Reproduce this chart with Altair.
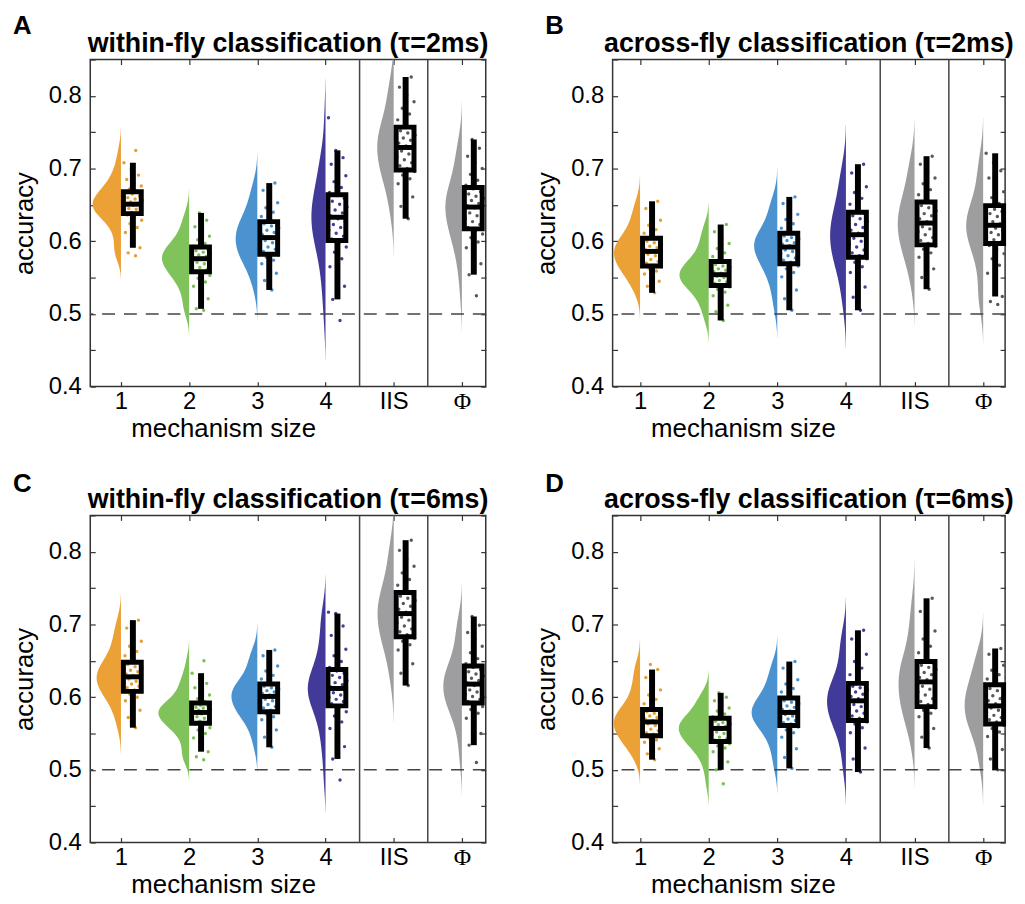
import altair as alt
import pandas as pd

# ---------------- data ----------------
CATS = ["1", "2", "3", "4", "IIS", "Φ"]
GROUPS = ["m1", "m2", "m3", "m4", "iis", "phi"]
Y_TICKS = [0.4, 0.45, 0.5, 0.55, 0.6, 0.65, 0.7, 0.75, 0.8, 0.85]
CHANCE = [0.5]
SEPARATORS = [4.5, 5.5]

TITLES = {
    "A": "within-fly classification (τ=2ms)",
    "B": "across-fly classification (τ=2ms)",
    "C": "within-fly classification (τ=6ms)",
    "D": "across-fly classification (τ=6ms)",
}

# box-plot statistics per category (whisker low, q1, median, q3, whisker high)
A_STATS = dict(lo=[.591, .507, .533, .520, .631, .554], q1=[.638, .558, .582, .601, .698, .617],
               med=[.651, .576, .605, .633, .729, .647], q3=[.668, .592, .627, .664, .757, .674],
               hi=[.708, .639, .680, .725, .826, .740])
B_STATS = dict(lo=[.529, .491, .505, .505, .534, .524], q1=[.566, .539, .569, .578, .595, .597],
               med=[.586, .554, .592, .609, .625, .622], q3=[.604, .572, .611, .640, .654, .649],
               hi=[.655, .623, .661, .706, .717, .721])
C_STATS = dict(lo=[.558, .525, .531, .515, .616, .534], q1=[.608, .564, .580, .588, .683, .592],
               med=[.628, .579, .601, .612, .715, .618], q3=[.648, .592, .618, .638, .744, .643],
               hi=[.706, .633, .665, .715, .816, .711])
D_STATS = dict(lo=[.514, .500, .502, .497, .530, .500], q1=[.547, .539, .561, .568, .587, .563],
               med=[.566, .557, .579, .595, .621, .588], q3=[.583, .571, .599, .619, .649, .617],
               hi=[.638, .606, .649, .692, .736, .667])

# individual accuracies (estimated from the scatter clouds)
A_POINTS = [
    [.580, .584, .591, .603, .612, .619, .624, .629, .633, .636, .638, .640, .642, .644, .645, .647, .649, .650,
     .652, .654, .656, .658, .660, .662, .665, .667, .669, .672, .676, .680, .685, .691, .699, .708, .725],
    [.505, .507, .521, .531, .538, .544, .549, .553, .556, .558, .561, .564, .566, .569, .571, .573, .575, .577,
     .579, .581, .583, .585, .587, .589, .591, .593, .597, .602, .607, .613, .620, .629, .639],
    [.533, .546, .556, .563, .569, .574, .578, .581, .583, .586, .589, .592, .595, .598, .601, .604, .606, .609,
     .612, .615, .618, .621, .624, .626, .629, .634, .640, .646, .653, .661, .670, .680],
    [.491, .520, .538, .553, .565, .576, .585, .592, .598, .603, .607, .611, .615, .619, .623, .627, .631, .635,
     .639, .643, .647, .651, .655, .659, .663, .667, .674, .682, .690, .698, .706, .715, .725, .770],
    [.631, .648, .661, .671, .679, .686, .691, .696, .700, .704, .708, .712, .716, .720, .724, .727, .731, .735,
     .739, .742, .746, .749, .752, .755, .760, .767, .775, .783, .792, .801, .812, .826],
    [.525, .554, .569, .581, .591, .599, .605, .610, .614, .619, .623, .627, .631, .635, .639, .643, .646, .649,
     .652, .656, .659, .662, .665, .668, .672, .677, .684, .692, .700, .708, .717, .728, .740],
]
B_POINTS = [
    [.529, .538, .545, .551, .555, .559, .562, .565, .567, .570, .572, .575, .578, .580, .582, .585, .587, .589,
     .591, .593, .596, .598, .600, .603, .606, .611, .616, .622, .629, .636, .645, .655],
    [.491, .503, .512, .519, .525, .530, .534, .537, .540, .542, .544, .546, .548, .550, .552, .553, .556, .558,
     .560, .562, .564, .566, .568, .571, .574, .579, .584, .590, .597, .604, .613, .623],
    [.505, .521, .533, .543, .551, .557, .562, .566, .571, .574, .577, .580, .583, .586, .588, .591, .594, .596,
     .598, .601, .603, .605, .607, .610, .613, .618, .624, .630, .637, .644, .652, .661],
    [.505, .523, .537, .548, .557, .565, .571, .576, .580, .584, .588, .592, .596, .600, .604, .607, .611, .615,
     .619, .623, .627, .631, .635, .638, .643, .651, .659, .667, .675, .684, .694, .706],
    [.534, .550, .562, .571, .578, .584, .589, .593, .597, .601, .605, .609, .613, .617, .620, .623, .627, .631,
     .635, .638, .642, .646, .649, .652, .657, .664, .671, .679, .687, .696, .706, .717],
    [.513, .517, .524, .542, .556, .567, .576, .583, .589, .594, .599, .602, .605, .609, .612, .615, .618, .621,
     .624, .627, .631, .634, .638, .641, .644, .647, .652, .660, .668, .677, .687, .697, .708, .721],
]
C_POINTS = [
    [.558, .572, .582, .589, .595, .600, .604, .607, .610, .613, .615, .618, .620, .622, .625, .627, .630, .632,
     .635, .637, .640, .642, .645, .647, .651, .657, .663, .670, .677, .685, .695, .706],
    [.514, .518, .525, .536, .544, .550, .555, .558, .561, .563, .565, .567, .569, .571, .573, .575, .577, .578,
     .580, .582, .583, .585, .586, .588, .589, .591, .594, .598, .603, .608, .613, .619, .626, .633, .650],
    [.531, .545, .555, .563, .569, .573, .577, .579, .582, .585, .587, .590, .593, .595, .597, .600, .603, .605,
     .607, .609, .611, .613, .615, .617, .620, .625, .630, .636, .643, .650, .657, .665],
    [.486, .515, .532, .546, .557, .566, .574, .580, .585, .591, .594, .597, .600, .603, .606, .608, .611, .614,
     .617, .620, .623, .627, .630, .633, .636, .641, .649, .657, .666, .675, .685, .698, .715, .717],
    [.616, .633, .646, .656, .665, .672, .677, .681, .686, .690, .694, .698, .702, .706, .710, .713, .717, .721,
     .725, .729, .733, .736, .739, .742, .747, .754, .762, .771, .780, .790, .802, .816],
    [.510, .534, .550, .562, .571, .578, .583, .587, .590, .594, .597, .601, .604, .607, .610, .613, .616, .620,
     .623, .626, .629, .632, .635, .638, .641, .646, .653, .661, .670, .679, .689, .699, .711],
]
D_POINTS = [
    [.514, .522, .529, .534, .538, .541, .544, .546, .549, .551, .554, .556, .559, .561, .563, .565, .568, .570,
     .572, .574, .576, .578, .580, .582, .586, .591, .597, .603, .610, .617, .627, .638, .645],
    [.481, .500, .511, .519, .525, .530, .533, .536, .538, .541, .543, .545, .548, .550, .552, .554, .556, .558,
     .560, .562, .563, .565, .567, .568, .570, .573, .577, .581, .585, .590, .595, .600, .606],
    [.502, .517, .529, .538, .545, .551, .555, .559, .563, .565, .568, .570, .572, .574, .576, .578, .581, .583,
     .586, .588, .591, .593, .595, .597, .602, .607, .612, .618, .624, .631, .640, .649],
    [.497, .515, .530, .542, .551, .558, .563, .566, .571, .574, .578, .581, .584, .587, .590, .593, .598, .601,
     .604, .607, .610, .613, .615, .618, .623, .631, .640, .649, .659, .669, .680, .692],
    [.530, .545, .557, .566, .573, .578, .582, .585, .590, .594, .598, .603, .607, .611, .615, .619, .624, .627,
     .631, .634, .638, .641, .644, .647, .653, .661, .670, .680, .691, .703, .718, .736],
    [.500, .515, .528, .538, .546, .552, .557, .561, .566, .569, .572, .575, .579, .582, .585, .587, .591, .595,
     .598, .602, .605, .609, .612, .615, .620, .625, .631, .637, .644, .651, .659, .667],
]

STATS = {"A": A_STATS, "B": B_STATS, "C": C_STATS, "D": D_STATS}
POINTS = {"A": A_POINTS, "B": B_POINTS, "C": C_POINTS, "D": D_POINTS}

# ---------------- styling ----------------
VIOLIN_COLORS = ["#EBA136", "#80C35A", "#4A92D0", "#413A98", "#9E9EA0", "#9E9EA0"]
POINT_COLORS = ["#E49A2C", "#74BC4C", "#3E8ACB", "#3A3493", "#505050", "#505050"]
FONT = "Liberation Sans"
Y_DOMAIN = [0.4, 0.85]
K = 0.031  # violin half-width (x units) per unit of density
PLOT_H = 330

# ---------------- tables ----------------
pts_rows, st_rows = [], []
for p in "ABCD":
    for i, g in enumerate(GROUPS):
        for v in POINTS[p][i]:
            pts_rows.append({"panel": p, "pos": i + 1, "grp": g, "value": v})
        st_rows.append({"panel": p, "pos": i + 1, "grp": g,
                        **{k: STATS[p][k][i] for k in ["lo", "q1", "med", "q3", "hi"]}})
points_df = pd.DataFrame(pts_rows)
stats_df = pd.DataFrame(st_rows)

label_expr = "[" + ",".join("'" + c + "'" for c in CATS) + "][datum.value - 1]"


def make_panel(key, width, xdom, letter_dx, letter_y):
    pdf = points_df[points_df.panel == key]
    sdf = stats_df[stats_df.panel == key]
    xs = alt.Scale(domain=xdom, nice=False, zero=False)
    ys = alt.Scale(domain=Y_DOMAIN, nice=False, zero=False)
    px_per_unit = width / (xdom[1] - xdom[0])

    def X(f, axis=None):
        return alt.X(f, type="quantitative", scale=xs, axis=axis)

    def Y(f, axis=None):
        return alt.Y(f, type="quantitative", scale=ys, axis=axis)

    y_left = alt.Axis(orient="left", values=Y_TICKS, offset=-5, tickSize=5, domain=False, grid=False,
                      labelExpr="abs(datum.value*10 - round(datum.value*10)) < 0.01 ? format(datum.value, '.1f') : ''",
                      labelOverlap=False, labelFlush=False, labelPadding=9, labelFontSize=24,
                      title="accuracy", titleFontSize=26, titleFontWeight="normal", titlePadding=11)
    y_right = alt.Axis(orient="right", values=Y_TICKS, offset=-5, tickSize=5, domain=False, grid=False,
                       labels=False, title=None)
    x_bottom = alt.Axis(orient="bottom", values=[1, 2, 3, 4, 5, 6], offset=-5, tickSize=5, domain=False,
                        grid=False, labelExpr=label_expr, labelOverlap=False, labelFlush=False,
                        labelPadding=3, labelFontSize=24,
                        labelFont={"condition": {"test": "datum.value == 6", "value": "Liberation Serif"},
                                   "value": FONT},
                        title="mechanism size", titleFontSize=26, titleFontWeight="normal",
                        titleX=(2.5 - xdom[0]) * px_per_unit, titleY=55, titleAlign="center",
                        titleBaseline="alphabetic")
    x_top = alt.Axis(orient="top", values=[1, 2, 3, 4, 5, 6], offset=-5, tickSize=5, domain=False,
                     grid=False, labels=False, title=None)

    violin = alt.Chart(pdf).transform_density(
        "value", as_=["value", "density"], groupby=["pos", "grp"], extent=[0.38, 0.88], steps=300
    ).transform_filter("datum.density > 0.05").transform_calculate(
        xl=f"datum.pos - datum.density * {K}"
    ).mark_area(orient="horizontal", clip=True).encode(
        y=Y("value"), x=X("xl"), x2=alt.X2("pos"),
        color=alt.Color("grp:N", scale=alt.Scale(domain=GROUPS, range=VIOLIN_COLORS), legend=None),
    )

    points = alt.Chart(pdf).transform_window(
        rn="row_number()", groupby=["pos"]
    ).transform_calculate(
        jx="datum.pos + 0.04 + 0.28 * ((datum.rn * 0.6180339887) % 1)"
    ).mark_circle(size=12, opacity=0.95, clip=True).encode(
        x=X("jx"), y=Y("value"),
        color=alt.Color("grp:N", scale=alt.Scale(domain=GROUPS, range=POINT_COLORS), legend=None),
    )

    chance = alt.Chart(pd.DataFrame({"y": CHANCE})).mark_rule(
        color="#444444", strokeWidth=1.5, strokeDash=[13, 9]
    ).encode(y=Y("y", axis=y_left))

    seps = alt.Chart(pd.DataFrame({"x": SEPARATORS})).mark_rule(
        color="#444444", strokeWidth=1.5
    ).encode(x=X("x", axis=x_bottom))

    bx = "datum.pos + 0.175"
    whisk_lo = alt.Chart(sdf).transform_calculate(bx=bx).mark_rule(
        color="black", strokeWidth=6, strokeCap="butt"
    ).encode(x=X("bx", axis=x_top), y=Y("lo", axis=y_right), y2="q1")
    whisk_hi = alt.Chart(sdf).transform_calculate(bx=bx).mark_rule(
        color="black", strokeWidth=6, strokeCap="butt"
    ).encode(x=X("bx"), y=Y("q3"), y2="hi")

    box = alt.Chart(sdf).transform_calculate(
        b0="datum.pos + 0.036", b1="datum.pos + 0.298"
    ).mark_rect(fill="white", fillOpacity=0, stroke="black", strokeWidth=5).encode(
        x=X("b0"), x2="b1", y=Y("q1"), y2="q3"
    )
    med = alt.Chart(sdf).transform_calculate(
        b0="datum.pos + 0.036", b1="datum.pos + 0.298"
    ).mark_rule(color="black", strokeWidth=5, strokeCap="butt").encode(
        x=X("b0"), x2="b1", y=Y("med")
    )

    letter = alt.Chart(pd.DataFrame({"t": [key]})).mark_text(
        align="left", baseline="alphabetic", fontSize=26, fontWeight="bold", font=FONT, color="black"
    ).encode(text="t:N", x=alt.value(letter_dx), y=alt.value(letter_y))

    heading = alt.Chart(pd.DataFrame({"t": [TITLES[key]]})).mark_text(
        align="center", baseline="alphabetic", fontSize=27, fontWeight="bold", font=FONT, color="black"
    ).encode(text="t:N", x=alt.value(width / 2), y=alt.value(-8))

    return alt.layer(
        violin, chance, seps, points, whisk_lo, whisk_hi, box, med, letter, heading
    ).resolve_scale(color="independent").resolve_axis(x="independent", y="independent").properties(
        width=width, height=PLOT_H,
    )


pA = make_panel("A", 399, [0.55, 6.35], -78, -26)
pB = make_panel("B", 396, [0.60, 6.32], -68, -26)
pC = make_panel("C", 399, [0.55, 6.35], -78, -24)
pD = make_panel("D", 396, [0.60, 6.32], -68, -24)

chart = alt.concat(
    pA, pB, pC, pD, columns=2, spacing={"row": 130, "column": 128}, bounds="flush"
).properties(
    padding={"left": 2, "top": 0, "right": 2, "bottom": 0}
).configure(font=FONT).configure_view(
    stroke="#333333", strokeWidth=1.5
).configure_axis(
    labelColor="black", titleColor="black", tickColor="#333333", tickWidth=1.2, labelFont=FONT, titleFont=FONT
)

chart.save("out.html", embed_options={"renderer": "svg", "actions": False})
